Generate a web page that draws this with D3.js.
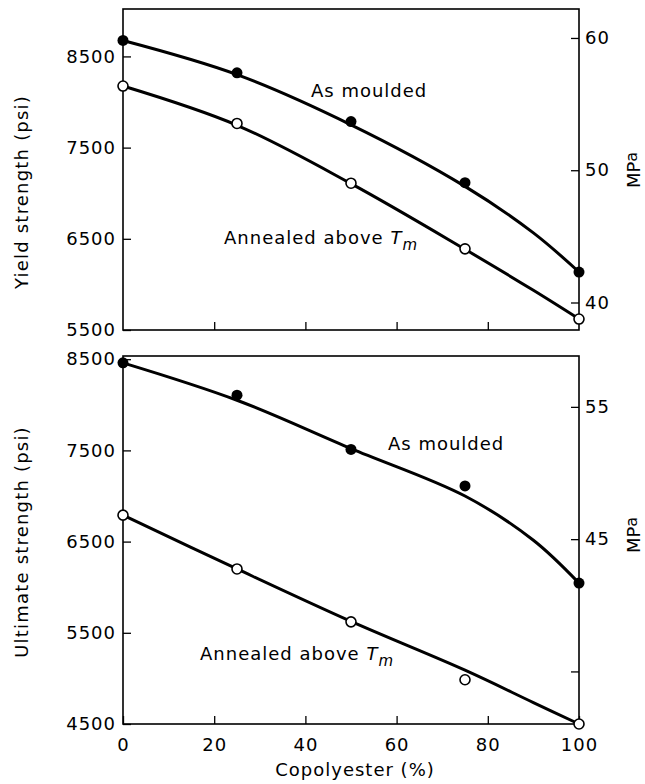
<!DOCTYPE html>
<html><head><meta charset="utf-8">
<script src="https://cdn.jsdelivr.net/npm/d3@7"></script>
<style>
body{margin:0;background:#fff}
text{font-family:"DejaVu Sans",sans-serif;fill:#000}
</style>
</head><body>
<svg id="c" width="645" height="784"></svg>
<script>
// ---- data ----
const copolyester = [0, 25, 50, 75, 100];
const yieldMoulded = [8675, 8320, 7785, 7115, 6135];
const yieldAnnealed = [8175, 7765, 7110, 6390, 5620];
const ultMoulded = [8460, 8105, 7510, 7110, 6045];
const ultAnnealed = [6790, 6200, 5620, 4985, 4500];
// hand-drawn fitted curves
const fitX = [0, 25, 50, 75, 90, 100];
const yieldMouldedFit = [8674, 8300, 7750, 7075, 6565, 6136];
const yieldAnnealedFit = [8175, 7745, 7105, 6385, 5935, 5621];
const ultMouldedFit = [8460, 8050, 7520, 7000, 6515, 6045];
const ultAnnealedFit = [6790, 6200, 5625, 5090, 4735, 4500];
// ticks
const xTicks = [0, 20, 40, 60, 80, 100];
const yieldTicks = [5500, 6500, 7500, 8500];
const ultTicks = [4500, 5500, 6500, 7500, 8500];
const yieldMPaTicks = [40, 50, 60];
const yieldMPaLabels = ["40", "50", "60"];
const ultMPaTicks = [35, 45, 55];
const ultMPaLabels = ["", "45", "55"];
const PSI_PER_MPA = 145.04;

const svg = d3.select("#c");
const x = d3.scaleLinear().domain([0, 100]).range([123, 579]);

const panels = [
  {domain: [5500, 9020], range: [330, 9], ticks: yieldTicks, mpaTicks: yieldMPaTicks, mpaLabels: yieldMPaLabels,
   moulded: yieldMoulded, annealed: yieldAnnealed, mouldedFit: yieldMouldedFit, annealedFit: yieldAnnealedFit,
   title: "Yield strength (psi)", titleY: 192, mpaY: 170, xLabels: false,
   mLabel: [311, 97], aLabel: [224, 244]},
  {domain: [4500, 8535], range: [724, 356], ticks: ultTicks, mpaTicks: ultMPaTicks, mpaLabels: ultMPaLabels,
   moulded: ultMoulded, annealed: ultAnnealed, mouldedFit: ultMouldedFit, annealedFit: ultAnnealedFit,
   title: "Ultimate strength (psi)", titleY: 542, mpaY: 535, xLabels: true,
   mLabel: [388, 450], aLabel: [200, 660]}
];

panels.forEach(p => {
  const y = d3.scaleLinear().domain(p.domain).range(p.range);
  const yM = d3.scaleLinear().domain(p.domain.map(v => v / PSI_PER_MPA)).range(p.range);
  const g = svg.append("g");

  g.append("rect").attr("x", x(0)).attr("y", p.range[1])
    .attr("width", x(100) - x(0)).attr("height", p.range[0] - p.range[1])
    .attr("fill", "none").attr("stroke", "#000").attr("stroke-width", 1.6);

  const la = g.append("g").attr("transform", `translate(${x(0)},0)`)
    .call(d3.axisLeft(y).tickValues(p.ticks).tickFormat(d3.format("d"))
      .tickSizeInner(-8).tickSizeOuter(0).tickPadding(7));
  const ra = g.append("g").attr("transform", `translate(${x(100)},0)`)
    .call(d3.axisRight(yM).tickValues(p.mpaTicks).tickFormat((d, i) => p.mpaLabels[i])
      .tickSizeInner(-8).tickSizeOuter(0).tickPadding(6));
  const ba = g.append("g").attr("transform", `translate(0,${p.range[0]})`)
    .call(d3.axisBottom(x).tickValues(p.xLabels ? xTicks : xTicks.slice(1, -1))
      .tickFormat(p.xLabels ? d3.format("d") : "")
      .tickSizeInner(-8).tickSizeOuter(0).tickPadding(14));
  [la, ra, ba].forEach(a => {
    a.select(".domain").remove();
    a.selectAll("line").attr("stroke", "#000").attr("stroke-width", 1.3);
    a.selectAll("text").attr("font-size", 18).attr("letter-spacing", 1)
      .attr("font-family", "DejaVu Sans").attr("fill", "#000");
  });

  const line = d3.line().x((d, i) => x(fitX[i])).y(d => y(d)).curve(d3.curveCatmullRom.alpha(0.5));
  [p.mouldedFit, p.annealedFit].forEach(arr => {
    g.append("path").attr("d", line(arr)).attr("fill", "none")
      .attr("stroke", "#000").attr("stroke-width", 3).attr("stroke-linejoin", "round");
  });

  g.selectAll(".m").data(p.moulded).join("circle")
    .attr("cx", (d, i) => x(copolyester[i])).attr("cy", d => y(d)).attr("r", 5.5)
    .attr("fill", "#000");
  g.selectAll(".a").data(p.annealed).join("circle")
    .attr("cx", (d, i) => x(copolyester[i])).attr("cy", d => y(d)).attr("r", 5)
    .attr("fill", "#fff").attr("stroke", "#000").attr("stroke-width", 1.6);

  g.append("text").attr("x", p.mLabel[0]).attr("y", p.mLabel[1])
    .attr("font-size", 18).attr("letter-spacing", 1).text("As moulded");
  const at = g.append("text").attr("x", p.aLabel[0]).attr("y", p.aLabel[1])
    .attr("font-size", 18).attr("letter-spacing", 1);
  at.append("tspan").text("Annealed above ");
  at.append("tspan").attr("font-style", "italic").text("T");
  at.append("tspan").attr("font-style", "italic").attr("font-size", 15).attr("dy", 6).text("m");

  g.append("text").attr("transform", `translate(28,${p.titleY}) rotate(-90)`)
    .attr("text-anchor", "middle").attr("font-size", 18).attr("letter-spacing", 1.2)
    .text(p.title);
  const mt = g.append("text").attr("transform", `translate(640,${p.mpaY}) rotate(-90)`)
    .attr("text-anchor", "middle").attr("font-size", 18);
  mt.append("tspan").text("MP");
  mt.append("tspan").attr("dy", -3).attr("font-size", 16).text("a");
});

svg.append("text").attr("x", 355).attr("y", 776).attr("text-anchor", "middle")
  .attr("font-size", 18).attr("letter-spacing", 1).text("Copolyester (%)");
</script>
</body></html>
